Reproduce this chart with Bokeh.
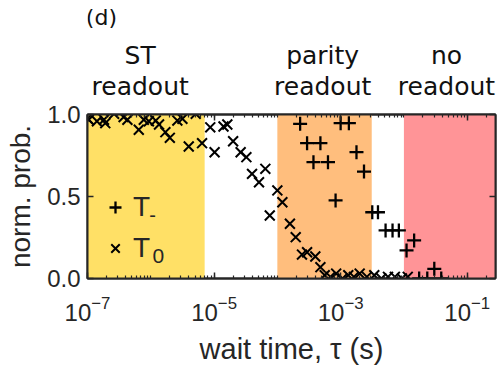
from bokeh.plotting import figure
from bokeh.layouts import column
from bokeh.models import (FixedTicker, LogAxis, LinearAxis, Legend, LegendItem,
                          Label, PrintfTickFormatter)
from bokeh.embed import file_html
from bokeh.resources import INLINE

# ---------------- data ----------------
t0_tau = [1.0e-7, 1.05e-7, 1.41e-7, 1.82e-7, 1.91e-7, 2.63e-7, 3.72e-7, 4.27e-7, 6.46e-7,
          7.76e-7, 9.33e-7, 1.20e-6, 1.35e-6, 1.70e-6, 2.00e-6, 2.63e-6, 3.16e-6,
          3.98e-6, 5.13e-6, 6.46e-6, 8.71e-6, 1.02e-5, 1.41e-5, 1.62e-5, 2.00e-5,
          2.63e-5, 3.24e-5, 3.98e-5, 5.13e-5, 6.46e-5, 7.59e-5, 1.00e-4, 1.20e-4,
          1.58e-4, 1.95e-4, 2.45e-4, 2.95e-4, 3.98e-4, 4.79e-4, 5.6e-4, 6.9e-4,
          8.5e-4, 1.07e-3, 1.32e-3, 1.62e-3, 2.0e-3, 2.6e-3, 3.4e-3, 4.4e-3,
          5.6e-3, 7.2e-3, 9.3e-3, 1.15e-2]
t0_prob = [0.975, 0.968, 0.959, 0.968, 0.947, 1.004, 0.984, 0.968, 0.907,
           0.968, 0.959, 0.963, 0.939, 0.892, 0.858, 0.963, 0.974,
           0.805, 1.004, 0.825, 0.922, 0.770, 0.927, 0.939, 0.837,
           0.770, 0.740, 0.638, 0.587, 0.669, 0.384, 0.537, 0.465,
           0.334, 0.252, 0.146, 0.160, 0.134, 0.069, 0.020, 0.010,
           0.030, 0.000, 0.020, 0.010, 0.030, 0.010, 0.020, 0.000,
           0.010, 0.010, 0.000, 0.010]

tm_tau = [2.29e-4, 2.95e-4, 3.72e-4, 4.79e-4, 6.31e-4, 8.32e-4, 1.00e-3, 1.35e-3,
          1.78e-3, 2.34e-3, 3.16e-3, 3.89e-3, 5.13e-3, 6.61e-3, 8.32e-3, 1.10e-2,
          1.45e-2, 1.74e-2, 2.34e-2, 3.02e-2, 3.89e-2]
tm_prob = [0.943, 0.825, 0.709, 0.825, 0.709, 0.476, 0.947, 0.947,
           0.770, 0.652, 0.404, 0.404, 0.293, 0.293, 0.293, 0.171,
           0.232, 0.000, 0.000, 0.059, 0.000]

region_left = [1e-7, 1.0e-4, 1.0e-2]
region_right = [7.1e-6, 3.1e-3, 0.28]
region_colors = ["#FFE066", "#FFBE7D", "#FF9497"]
region_title_top = ["ST", "parity", "no"]
region_title_bottom = ["readout", "readout", "readout"]
region_title_x = [6.8e-7, 5.2e-4, 4.7e-2]
panel_tag = "(d)"

x_major_ticks = [1e-7, 1e-5, 1e-3, 1e-1]
x_minor_ticks = [m * 10.0 ** k for k in range(-7, 0) for m in range(1, 10)]
y_major_ticks = [0.0, 0.5, 1.0]

AX = "#262626"
FONT = "Liberation Sans"

p = figure(width=503, height=268, x_axis_type="log", x_range=(1e-7, 0.28),
           y_range=(0, 1), output_backend="svg", toolbar_location=None,
           title=None,
           min_border_left=87, min_border_right=8, min_border_top=14,
           min_border_bottom=90)
p.background_fill_color = "white"
p.border_fill_color = "white"
p.xgrid.visible = False
p.ygrid.visible = False
p.outline_line_color = AX
p.outline_line_width = 2

p.quad(left=region_left, right=region_right, bottom=0, top=1,
       fill_color=region_colors, line_color=None)

r_minus = p.scatter(tm_tau, tm_prob, marker="cross", size=14, line_width=2.3,
                    line_color="black")
r_zero = p.scatter(t0_tau, t0_prob, marker="x", size=14, line_width=2.0,
                   line_color="black")

def style_axis(ax, show_labels=True):
    ax.axis_line_color = AX
    ax.axis_line_width = 2
    ax.major_tick_line_color = AX
    ax.major_tick_line_width = 1.5
    ax.major_tick_in = 6
    ax.major_tick_out = 0
    ax.minor_tick_line_color = AX
    ax.minor_tick_line_width = 1.2
    ax.minor_tick_in = 3
    ax.minor_tick_out = 0
    if show_labels:
        ax.major_label_text_font = FONT
        ax.major_label_text_font_size = "24px"
        ax.major_label_text_color = AX
        ax.axis_label_text_font = FONT
        ax.axis_label_text_font_size = "28px"
        ax.axis_label_text_font_style = "normal"
        ax.axis_label_text_color = AX
    else:
        ax.major_label_text_font_size = "1px"
        ax.major_label_text_alpha = 0
        ax.major_label_standoff = 0

xax = p.xaxis[0]
xax.ticker = FixedTicker(ticks=x_major_ticks, minor_ticks=x_minor_ticks)
style_axis(xax)
xax.major_label_standoff = 17
xax.axis_label = "wait time, τ (s)"
xax.axis_label_text_font_size = "29px"
xax.axis_label_standoff = 9

yax = p.yaxis[0]
yax.ticker = FixedTicker(ticks=y_major_ticks, minor_ticks=[])
yax.formatter = PrintfTickFormatter(format="%.1f")
style_axis(yax)
yax.major_label_standoff = 7
yax.axis_label = "norm. prob."
yax.axis_label_standoff = 8

top_ax = LogAxis(ticker=FixedTicker(ticks=x_major_ticks, minor_ticks=x_minor_ticks))
style_axis(top_ax, show_labels=False)
p.add_layout(top_ax, "above")
right_ax = LinearAxis(ticker=FixedTicker(ticks=y_major_ticks, minor_ticks=[]))
style_axis(right_ax, show_labels=False)
p.add_layout(right_ax, "right")

legend = Legend(items=[LegendItem(label="T", renderers=[r_minus]),
                       LegendItem(label="T", renderers=[r_zero])],
                location=(13, 14), border_line_color=None,
                background_fill_alpha=0, padding=0, margin=0, spacing=9,
                glyph_width=30, glyph_height=30, label_height=30,
                label_standoff=3, label_text_font=FONT,
                label_text_font_size="28px", label_text_color=AX)
p.add_layout(legend)

# subscripts of the legend labels
p.add_layout(Label(x=10 ** -5.97, y=0.385, text="-", text_font=FONT,
                   text_font_size="20px", text_color=AX, text_align="center",
                   text_baseline="middle"))
p.add_layout(Label(x=10 ** -5.88, y=0.14, text="0", text_font=FONT,
                   text_font_size="21px", text_color=AX, text_align="center",
                   text_baseline="middle"))

# ---------- header strip with region titles, sharing the x scale ----------
h = figure(width=503, height=100, x_axis_type="log", x_range=p.x_range,
           y_range=(0, 1), output_backend="svg", toolbar_location=None,
           title=None, x_axis_location=None, y_axis_location=None,
           min_border_left=87, min_border_right=8, min_border_top=0,
           min_border_bottom=0)
h.xgrid.visible = False
h.ygrid.visible = False
h.outline_line_color = None
h.background_fill_color = "white"
h.border_fill_color = "white"

for xt, top, bot in zip(region_title_x, region_title_top, region_title_bottom):
    h.add_layout(Label(x=xt, y=0.45, text=top, text_font="DejaVu Sans",
                       text_font_size="25px", text_color="#111111",
                       text_align="center", text_baseline="alphabetic"))
    h.add_layout(Label(x=xt, y=0.14, text=bot, text_font="DejaVu Sans",
                       text_font_size="25px", text_color="#111111",
                       text_align="center", text_baseline="alphabetic"))

h.add_layout(Label(x=10 ** -6.78, y=0.83, text=panel_tag, text_font="DejaVu Sans",
                   text_font_size="22px", text_color="#111111",
                   text_align="center", text_baseline="alphabetic"))

layout = column(h, p, spacing=0)
open("out.html", "w").write(file_html(layout, INLINE))
